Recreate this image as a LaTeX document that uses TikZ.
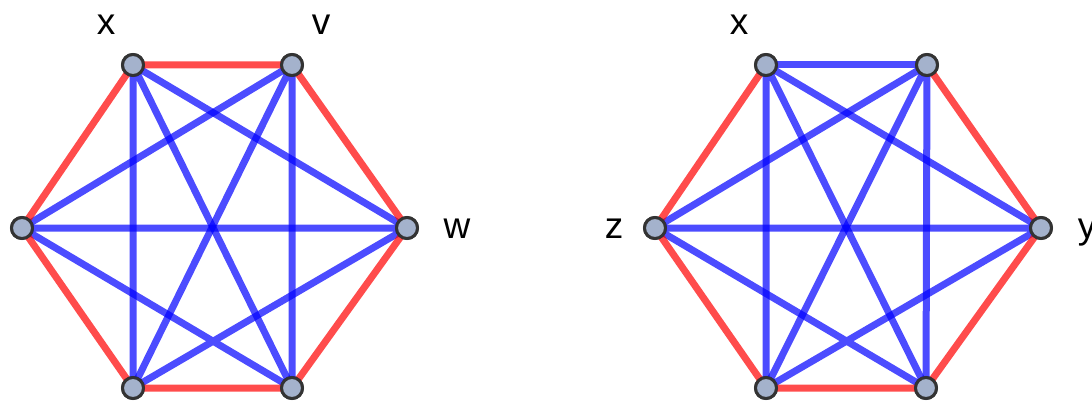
\documentclass[tikz,border=0pt]{standalone}
\usepackage{fontspec}
\setmainfont{Liberation Sans}
\definecolor{vfill}{RGB}{164,178,204}
\definecolor{vline}{RGB}{51,51,51}
\tikzset{
  vtx/.style={circle,draw=vline,line width=3pt,fill=vfill,minimum size=21pt,inner sep=0pt},
  bedge/.style={blue,opacity=0.7,line width=7pt},
  redge/.style={red,opacity=0.7,line width=7pt},
  lbl/.style={anchor=base,font=\fontsize{37}{40}\selectfont,inner sep=0pt}
}
\begin{document}
\begin{tikzpicture}[x=1pt,y=-1pt]
\useasboundingbox (0,0) rectangle (1092,401);

% left graph
\node[vtx] (a1) at (133,65) {};
\node[vtx] (a2) at (292,65) {};
\node[vtx] (a3) at (407,228) {};
\node[vtx] (a4) at (292,388) {};
\node[vtx] (a5) at (133,388) {};
\node[vtx] (a6) at (22,228) {};

% right graph
\node[vtx] (b1) at (766,65) {};
\node[vtx] (b2) at (927,65) {};
\node[vtx] (b3) at (1041,228) {};
\node[vtx] (b4) at (926,388) {};
\node[vtx] (b5) at (766,388) {};
\node[vtx] (b6) at (655,228) {};

\draw[bedge] (a1.center)--(a3.center) (a1.center)--(a4.center) (a1.center)--(a5.center);
\draw[bedge] (a2.center)--(a4.center) (a2.center)--(a5.center) (a2.center)--(a6.center);
\draw[bedge] (a3.center)--(a5.center) (a3.center)--(a6.center) (a4.center)--(a6.center);
\draw[redge] (a1.center)--(a2.center)--(a3.center)--(a4.center)--(a5.center)--(a6.center)--cycle;

\draw[bedge] (b1.center)--(b2.center);
\draw[bedge] (b1.center)--(b3.center) (b1.center)--(b4.center) (b1.center)--(b5.center);
\draw[bedge] (b2.center)--(b4.center) (b2.center)--(b5.center) (b2.center)--(b6.center);
\draw[bedge] (b3.center)--(b5.center) (b3.center)--(b6.center) (b4.center)--(b6.center);
\draw[redge] (b2.center)--(b3.center)--(b4.center)--(b5.center)--(b6.center)--(b1.center);

% vertices again, on top of the edges
\foreach \v in {a1,a2,a3,a4,a5,a6,b1,b2,b3,b4,b5,b6}
  \node[vtx] at (\v) {};

\node[lbl] (lx) at (106,35) {x};
\node[lbl] (lv) at (321,35) {v};
\node[lbl] (lw) at (457,238) {w};
\node[lbl] (rx) at (739,35) {x};
\node[lbl] (rz) at (614,238) {z};
\node[lbl] (ry) at (1087,238) {y};
\end{tikzpicture}
\end{document}
